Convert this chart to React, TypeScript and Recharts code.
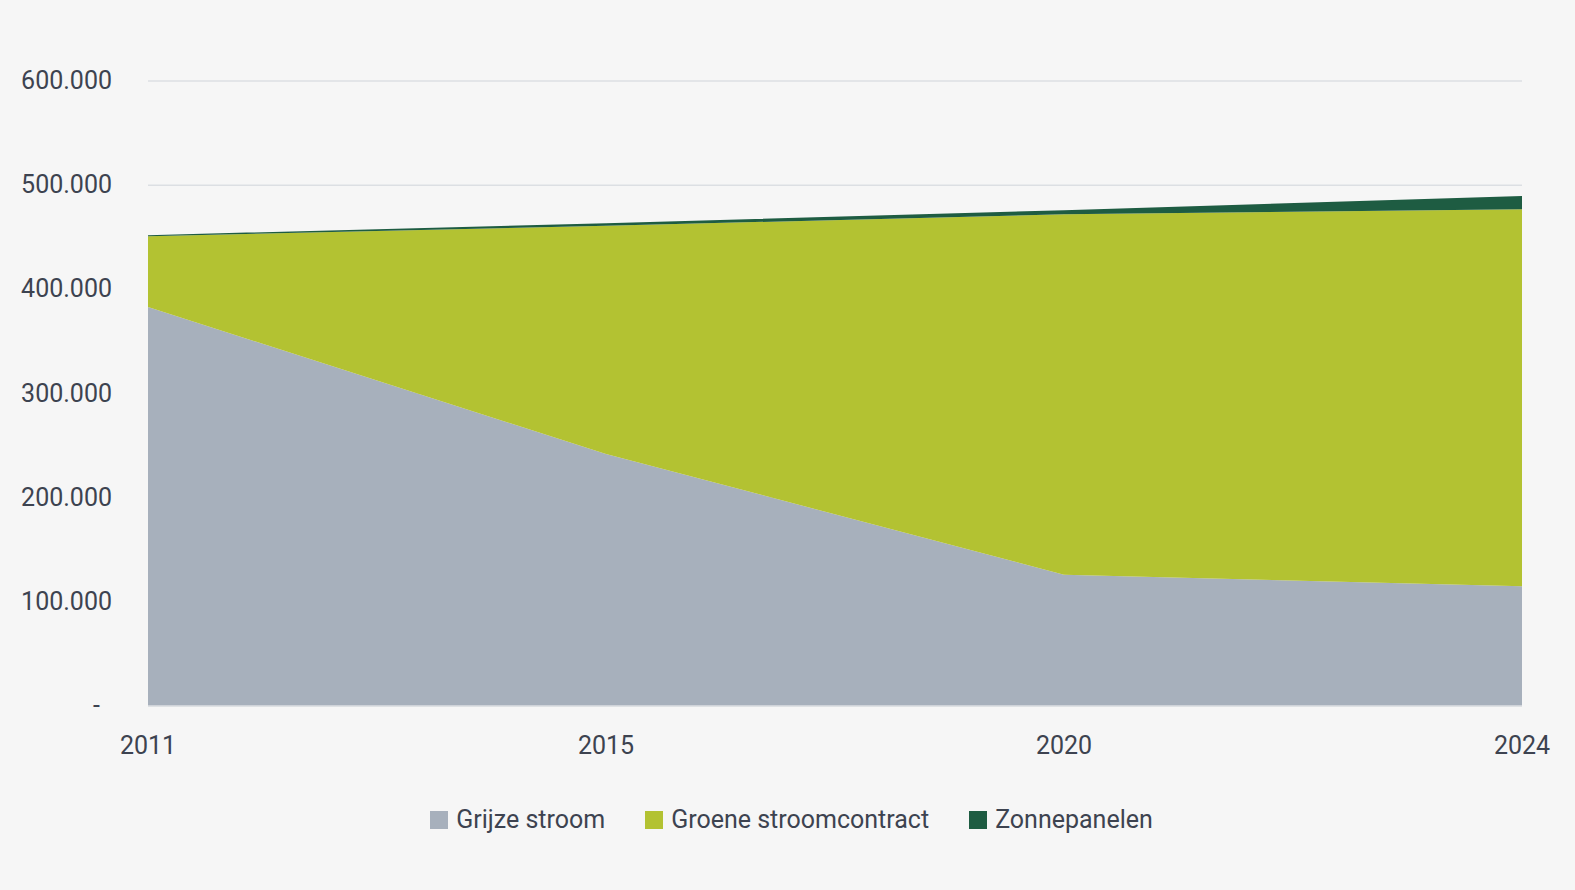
import { AreaChart, Area, XAxis, YAxis, CartesianGrid, Legend } from "recharts";

const years = ["2011", "2015", "2020", "2024"];
const grijzeStroom = [383000, 242000, 126000, 115000];
const groeneStroomcontract = [68000, 219000, 346000, 362000];
const zonnepanelen = [1000, 2500, 4000, 12500];
const yTicks = [0, 100000, 200000, 300000, 400000, 500000, 600000];

const series = [
  { key: "grijze", name: "Grijze stroom", color: "#a7b0bc" },
  { key: "groen", name: "Groene stroomcontract", color: "#b3c232" },
  { key: "zon", name: "Zonnepanelen", color: "#1e5c42" },
];

const data = years.map((year, i) => ({
  year,
  grijze: grijzeStroom[i],
  groen: groeneStroomcontract[i],
  zon: zonnepanelen[i],
}));

const FONT = "Roboto, sans-serif";
const TEXT = "#3d4350";

const fmt = (v: number) => (v === 0 ? "-" : v.toLocaleString("de-DE"));

function YTick({ x, y, payload }: any) {
  const isZero = payload.value === 0;
  return (
    <text
      x={isZero ? x - 12 : x}
      y={y}
      dy={8}
      textAnchor="end"
      fill={TEXT}
      fontSize={25}
      fontFamily={FONT}
    >
      {fmt(payload.value)}
    </text>
  );
}

function LegendContent() {
  return (
    <div
      style={{
        display: "flex",
        justifyContent: "center",
        alignItems: "center",
        gap: 40,
        fontFamily: FONT,
        fontSize: 25,
        color: TEXT,
        paddingLeft: 8,
      }}
    >
      {series.map((s) => (
        <div key={s.key} style={{ display: "flex", alignItems: "center", gap: 8 }}>
          <span style={{ width: 18, height: 18, background: s.color, display: "inline-block" }} />
          <span>{s.name}</span>
        </div>
      ))}
    </div>
  );
}

export default function App() {
  return (
    <div style={{ position: "absolute", left: 0, top: 0, width: 1575, height: 890, background: "#f6f6f6" }}>
      <AreaChart width={1575} height={890} data={data} margin={{ top: 81, right: 53, left: 0, bottom: 95 }}>
        <CartesianGrid vertical={false} stroke="#dcdfe3" strokeWidth={1.5} />
        <XAxis
          dataKey="year"
          axisLine={{ stroke: "#dcdfe3", strokeWidth: 1.5 }}
          tickLine={false}
          tick={{ fill: TEXT, fontSize: 25, fontFamily: FONT }}
          tickMargin={24}
          height={60}
          padding={{ left: 0, right: 0 }}
        />
        <YAxis
          width={148}
          domain={[0, 600000]}
          ticks={yTicks}
          axisLine={false}
          tickLine={false}
          tickSize={0}
          tickMargin={36}
          tick={<YTick />}
        />
        {series.map((s) => (
          <Area
            key={s.key}
            type="linear"
            dataKey={s.key}
            name={s.name}
            stackId="a"
            stroke="none"
            fill={s.color}
            fillOpacity={1}
            isAnimationActive={false}
          />
        ))}
        <Legend content={<LegendContent />} wrapperStyle={{ top: 805, left: 0, width: 1575 }} />
      </AreaChart>
    </div>
  );
}
